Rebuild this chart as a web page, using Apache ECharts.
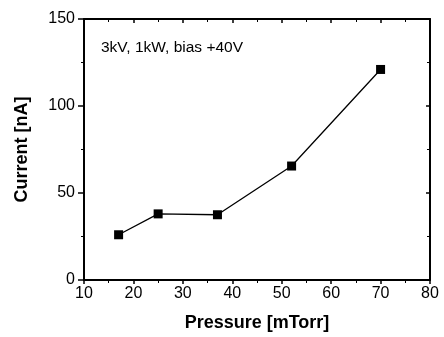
<!DOCTYPE html>
<html>
<head>
<meta charset="utf-8">
<script src="https://cdn.jsdelivr.net/npm/echarts@6/dist/echarts.min.js"></script>
<style>
  html, body { margin: 0; padding: 0; background: #fff; }
  #chart { width: 444px; height: 337px; }
</style>
</head>
<body>
<div id="chart"></div>
<script>
const pressure = [17, 25, 37, 52, 70]
const current = [26, 38, 37.5, 65.5, 121]
const note = '3kV, 1kW, bias +40V'

const chart = echarts.init(document.getElementById('chart'), undefined, { renderer: 'canvas' })

const font = 'Liberation Sans, Arial, sans-serif'
const axisLine = { show: true, onZero: false, lineStyle: { color: '#000', width: 2 } }

chart.setOption({
  animation: false,
  grid: { left: 84, right: 14, top: 19, bottom: 57 },
  graphic: [{
    type: 'text',
    left: 101,
    top: 40,
    style: { text: note, fill: '#000', font: '15.5px ' + font }
  }],
  xAxis: [{
    type: 'value',
    min: 10, max: 80, interval: 10,
    name: 'Pressure [mTorr]',
    nameLocation: 'middle',
    nameGap: 34,
    nameTextStyle: { fontFamily: font, fontSize: 18, fontWeight: 'bold', color: '#000' },
    axisLine,
    axisTick: { show: true, inside: false, length: 4, lineStyle: { color: '#000', width: 1.5 } },
    minorTick: { show: true, splitNumber: 2, length: 3, lineStyle: { color: '#000' } },
    axisLabel: { fontFamily: font, fontSize: 16, color: '#000', margin: 6 },
    splitLine: { show: false }
  }, {
    type: 'value',
    position: 'top',
    min: 10, max: 80, interval: 10,
    axisLine,
    axisTick: { show: true, inside: true, length: 4, lineStyle: { color: '#000', width: 1.5 } },
    minorTick: { show: true, splitNumber: 2, length: 3, lineStyle: { color: '#000' } },
    axisLabel: { show: false },
    splitLine: { show: false }
  }],
  yAxis: [{
    type: 'value',
    min: 0, max: 150, interval: 50,
    name: 'Current [nA]',
    nameLocation: 'middle',
    nameGap: 53,
    nameTextStyle: { fontFamily: font, fontSize: 18, fontWeight: 'bold', color: '#000' },
    axisLine,
    axisTick: { show: true, inside: false, length: 6, lineStyle: { color: '#000', width: 1.5 } },
    minorTick: { show: true, splitNumber: 2, length: 3, lineStyle: { color: '#000' } },
    axisLabel: { fontFamily: font, fontSize: 16, color: '#000', margin: 9 },
    splitLine: { show: false }
  }, {
    type: 'value',
    position: 'right',
    min: 0, max: 150, interval: 50,
    axisLine,
    axisTick: { show: true, inside: true, length: 4, lineStyle: { color: '#000', width: 1.5 } },
    minorTick: { show: true, splitNumber: 2, length: 3, lineStyle: { color: '#000' } },
    axisLabel: { show: false },
    splitLine: { show: false }
  }],
  series: [{
    type: 'line',
    data: pressure.map((p, i) => [p, current[i]]),
    symbol: 'rect',
    symbolSize: 9,
    showSymbol: true,
    itemStyle: { color: '#000' },
    lineStyle: { color: '#000', width: 1.3 }
  }]
})
</script>
</body>
</html>
